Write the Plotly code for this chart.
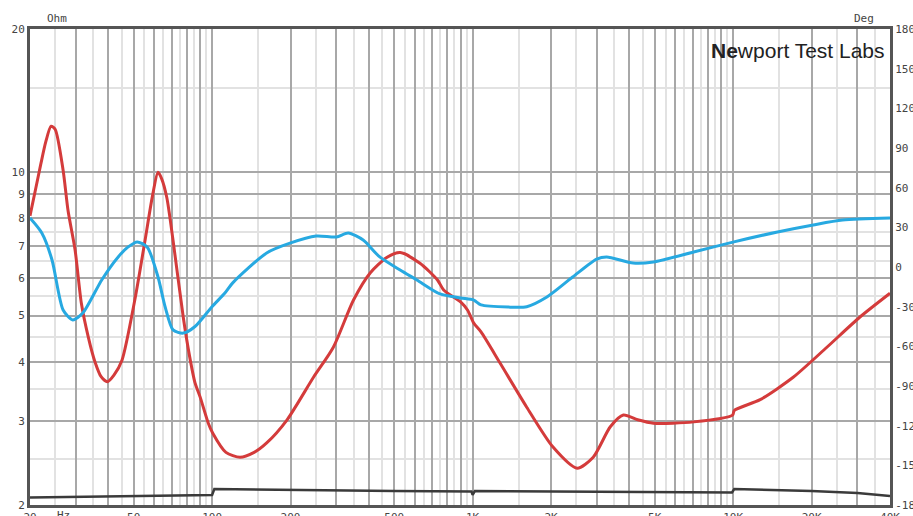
import numpy as np
import plotly.graph_objects as go

# Impedance (Ohm) - red
imp_freq = [20, 21, 22, 23, 24.1, 25, 26.8, 28, 29.8, 31.5, 33.5, 35.5, 37.5, 39.6, 42, 45.1, 50.5, 55.3, 59, 62,
            64, 67, 70.8, 77.5, 82, 86, 90, 96.7, 100.6, 113, 128, 145, 162, 194, 245, 292, 349, 405, 468, 527,
            628, 733, 774, 899, 957, 1010, 1077, 1276, 1613, 2031, 2518, 2903, 3377, 3790, 4300, 4943, 7055,
            9950, 10100, 12700, 17000, 22900, 30600, 40000]
imp_ohm = [8.1, 9.2, 10.4, 11.6, 12.5, 12.3, 10.1, 8.3, 6.86, 5.3, 4.5, 4.0, 3.72, 3.63, 3.75, 4.03, 5.39, 7.2,
           8.9, 10.0, 9.7, 8.85, 7.2, 4.96, 4.1, 3.61, 3.37, 2.97, 2.83, 2.58, 2.52, 2.58, 2.70, 3.02, 3.71, 4.29,
           5.39, 6.15, 6.62, 6.78, 6.44, 5.94, 5.66, 5.34, 5.13, 4.82, 4.62, 3.97, 3.21, 2.65, 2.39, 2.52, 2.92,
           3.09, 3.02, 2.97, 2.99, 3.09, 3.16, 3.33, 3.71, 4.29, 4.96, 5.57]

# Phase (degrees) - blue
ph_freq = [20, 22.2, 24.3, 26.8, 29.2, 31.9, 37.7, 43.6, 47.5, 51.6, 56.4, 62, 66, 70.8, 77.5, 86, 99.9, 112,
           120, 162, 199, 251, 300, 333, 380, 440, 527, 611, 750, 899, 1010, 1077, 1369, 1613, 1928, 2420,
           2993, 3270, 4130, 4943, 7055, 10070, 14800, 20300, 26300, 40000]
ph_deg = [37, 25.7, 5.3, -32.5, -40, -34.8, -9.8, 7.6, 15, 19, 15, -7.6, -30, -47.6, -50, -45, -30, -19.7,
          -12, 10.6, 18, 23.4, 22.7, 25.7, 20.4, 7.6, -2.3, -9.8, -20.4, -23.4, -25, -28.7, -30.3, -30, -22.7,
          -7.6, 6, 7.6, 3, 3.8, 11.3, 19, 26.5, 31.8, 35.5, 37]

# Reference trace near bottom (dark)
ref_freq = [20, 45, 98, 100, 102, 200, 500, 990, 1000, 1020, 5000, 9900, 10100, 20000, 30000, 40000]
ref_ohm = [2.075, 2.09, 2.10, 2.10, 2.16, 2.15, 2.14, 2.135, 2.10, 2.14, 2.13, 2.125, 2.16, 2.14, 2.12, 2.09]

# Tick labels
x_label_vals = [20, 50, 100, 200, 500, 1000, 2000, 5000, 10000, 20000, 40000]
x_label_text = ["20", "50", "100", "200", "500", "1K", "2K", "5K", "10K", "20K", "40K"]
y_label_vals = [2, 3, 4, 5, 6, 7, 8, 9, 10, 20]
y2_vals = [-180, -150, -120, -90, -60, -30, 0, 30, 60, 90, 120, 150, 180]

# Grid positions
x_major = []
x_minor = []
for dec in [10, 100, 1000, 10000]:
    for m in range(1, 10):
        v = m * dec
        if 20 <= v <= 40000:
            x_major.append(v)
        h = (m + 0.5) * dec
        if 20 < h < 40000:
            x_minor.append(h)
x_text = [x_label_text[x_label_vals.index(v)] if v in x_label_vals else "" for v in x_major]

y_minor = [2.5, 3.5, 4.5, 5.5, 6.5, 7.5, 15]

fig = go.Figure()
fig.add_trace(go.Scatter(x=ref_freq, y=ref_ohm, mode="lines", line=dict(color="#3a3a3a", width=2.5),
                         hoverinfo="skip", showlegend=False))
fig.add_trace(go.Scatter(x=ph_freq, y=ph_deg, yaxis="y2", mode="lines",
                         line=dict(color="#27a9e1", width=3, shape="spline", smoothing=0.7),
                         showlegend=False))
fig.add_trace(go.Scatter(x=imp_freq, y=imp_ohm, mode="lines",
                         line=dict(color="#d43b3b", width=3, shape="spline", smoothing=0.7),
                         showlegend=False))

mono = "DejaVu Sans Mono"
fig.update_layout(
    width=913, height=516,
    margin=dict(l=30, r=23, t=29, b=11),
    paper_bgcolor="white", plot_bgcolor="white",
    font=dict(family=mono, size=11, color="#444"),
    xaxis=dict(type="log", range=[np.log10(20), np.log10(40000)], automargin=False,
               tickmode="array", tickvals=x_major, ticktext=x_text,
               showgrid=True, gridcolor="#a8a8a8", gridwidth=1.6,
               minor=dict(tickmode="array", tickvals=x_minor, showgrid=True, gridcolor="#e2e2e2", gridwidth=1.5),
               showline=True, linecolor="#555", linewidth=3, mirror=True,
               ticks="", zeroline=False, tickfont=dict(family=mono, size=11, color="#444")),
    yaxis=dict(type="log", range=[np.log10(2), np.log10(20)], automargin=False,
               tickmode="array", tickvals=y_label_vals, ticktext=[str(v) for v in y_label_vals],
               showgrid=True, gridcolor="#a8a8a8", gridwidth=1.6,
               minor=dict(tickmode="array", tickvals=y_minor, showgrid=True, gridcolor="#e2e2e2", gridwidth=1.5),
               showline=True, linecolor="#555", linewidth=3, mirror=True,
               ticks="", zeroline=False, tickfont=dict(family=mono, size=11, color="#444")),
    yaxis2=dict(overlaying="y", side="right", range=[-180, 180], automargin=False,
                tickmode="array", tickvals=y2_vals, ticktext=[str(v) for v in y2_vals],
                showgrid=False, zeroline=False, showline=True, linecolor="#555", linewidth=3,
                ticks="", tickfont=dict(family=mono, size=11, color="#444")),
    annotations=[
        dict(text="Ohm", xref="paper", yref="paper", x=0.0174, y=1.023, showarrow=False,
             font=dict(family=mono, size=11, color="#444"), yanchor="middle"),
        dict(text="Deg", xref="paper", yref="paper", x=0.984, y=1.023, showarrow=False,
             font=dict(family=mono, size=11, color="#444"), yanchor="middle"),
        dict(text="Hz", xref="paper", yref="paper", x=0.029, y=-0.005, showarrow=False,
             font=dict(family=mono, size=11, color="#444"), yanchor="top"),
        dict(text="<b>Ne</b>wport Test Labs", xref="paper", yref="paper", x=0.996, y=0.984,
             xanchor="right", yanchor="top", showarrow=False,
             font=dict(family="Liberation Sans", size=21, color="#222")),
    ],
)

fig.write_html("out.html", config={"displayModeBar": False},
               post_script="document.body.style.margin='0px';document.body.style.overflow='hidden';")
